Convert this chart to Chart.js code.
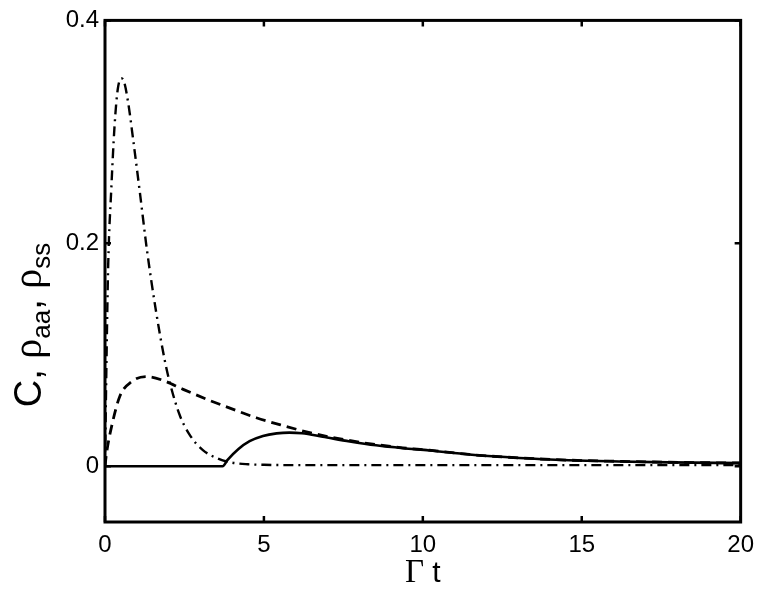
<!DOCTYPE html>
<html><head><meta charset="utf-8">
<script src="https://cdn.jsdelivr.net/npm/chart.js@4"></script>
<style>html,body{margin:0;padding:0;background:#fff}</style>
</head><body>
<canvas id="c" width="763" height="594" style="display:block;width:763px;height:594px"></canvas>
<script>
// ---- data ----
const xTickValues = [0, 5, 10, 15, 20];
const yTickValues = [0, 0.2, 0.4];

const solidT = [0, 1, 2, 3, 3.7, 3.85, 4.2, 4.55, 4.97, 5.4, 5.8, 6.2, 6.85, 7.7, 8.53, 9.37, 10.2, 11.46, 13.03, 14.6, 16.17, 17.74, 20];
const solidY = [0, 0, 0, 0, 0, 0.0055, 0.0155, 0.0225, 0.0272, 0.0295, 0.0302, 0.0296, 0.0265, 0.0223, 0.0188, 0.0162, 0.0142, 0.0105, 0.0074, 0.0054, 0.0043, 0.0035, 0.0028];

const dashedT = [0, 0.05, 0.21, 0.47, 0.84, 1.31, 1.83, 2.46, 3.3, 4.13, 4.76, 5.6, 6.44, 7.27, 8.1, 8.53, 9.37, 10.2, 11.46, 13.03, 14.6, 16.17, 17.74, 20];
const dashedY = [0, 0.012, 0.036, 0.063, 0.076, 0.0805, 0.077, 0.069, 0.059, 0.050, 0.0435, 0.0365, 0.0302, 0.0252, 0.0212, 0.0194, 0.0165, 0.0144, 0.0106, 0.0075, 0.0055, 0.0044, 0.0036, 0.0029];

const dashDotT = [0, 0.05, 0.1, 0.2, 0.3, 0.4, 0.52, 0.6, 0.73, 0.9, 1.1, 1.32, 1.6, 1.88, 2.04, 2.35, 2.67, 3.08, 3.55, 3.9, 4.5, 5, 6, 8, 10, 15, 20];
const dashDotY = [0, 0.1, 0.18, 0.25, 0.305, 0.338, 0.348, 0.345, 0.326, 0.29, 0.245, 0.194, 0.14, 0.095, 0.075, 0.046, 0.028, 0.0145, 0.007, 0.0038, 0.0018, 0.0013, 0.001, 0.001, 0.001, 0.001, 0.001];

const seriesNames = ['C', 'ρ_aa', 'ρ_ss'];

function pts(ts, ys) { return ts.map((t, i) => ({ x: t, y: ys[i] })); }

const frame = {
  id: 'frame',
  afterDatasetsDraw(chart) {
    const ctx = chart.ctx;
    const a = chart.chartArea;
    const xs = chart.scales.x, ys = chart.scales.y;
    ctx.save();
    ctx.strokeStyle = '#000';
    ctx.lineWidth = 3;
    ctx.strokeRect(a.left, a.top, a.right - a.left, a.bottom - a.top);
    ctx.lineWidth = 2.5;
    ctx.beginPath();
    const tl = 6;
    xTickValues.forEach(v => {
      const p = xs.getPixelForValue(v);
      ctx.moveTo(p, a.bottom); ctx.lineTo(p, a.bottom - tl);
      ctx.moveTo(p, a.top); ctx.lineTo(p, a.top + tl);
    });
    yTickValues.forEach(v => {
      const p = ys.getPixelForValue(v);
      ctx.moveTo(a.left, p); ctx.lineTo(a.left + tl, p);
      ctx.moveTo(a.right, p); ctx.lineTo(a.right - tl, p);
    });
    ctx.stroke();
    ctx.restore();
  },
  afterDraw(chart) {
    const ctx = chart.ctx;
    const a = chart.chartArea;
    ctx.save();
    ctx.fillStyle = '#000';
    ctx.textBaseline = 'alphabetic';
    // x title: "Γ t"
    const gF = '33px "Liberation Serif"', tF = '30px "Liberation Sans"';
    ctx.font = gF; const wG = ctx.measureText('Γ').width;
    ctx.font = tF; const wT = ctx.measureText(' t').width;
    let x0 = (a.left + a.right) / 2 - (wG + wT) / 2;
    ctx.font = gF; ctx.fillText('Γ', x0, 582);
    ctx.font = tF; ctx.fillText(' t', x0 + wG, 582);
    // y title: C, ρaa, ρss (rotated)
    const parts = [
      ['C, ', '38px "Liberation Sans"', 0],
      ['ρ', '40px "Liberation Serif"', 0],
      ['aa', '26px "Liberation Sans"', 9],
      [', ', '38px "Liberation Sans"', 0],
      ['ρ', '40px "Liberation Serif"', 0],
      ['ss', '26px "Liberation Sans"', 9]
    ];
    let total = 0;
    parts.forEach(p => { ctx.font = p[1]; p.push(ctx.measureText(p[0]).width); total += p[3]; });
    ctx.translate(41, 325);
    ctx.rotate(-Math.PI / 2);
    let cx = -total / 2;
    parts.forEach(p => { ctx.font = p[1]; ctx.fillText(p[0], cx, p[2]); cx += p[3]; });
    ctx.restore();
  }
};

new Chart(document.getElementById('c'), {
  type: 'line',
  data: {
    datasets: [
      { label: seriesNames[0], data: pts(solidT, solidY), borderColor: '#000', borderWidth: 2.6, pointRadius: 0, fill: false, cubicInterpolationMode: 'monotone' },
      { label: seriesNames[1], data: pts(dashedT, dashedY), borderColor: '#000', borderWidth: 2.8, borderDash: [10, 6], pointRadius: 0, fill: false, cubicInterpolationMode: 'monotone' },
      { label: seriesNames[2], data: pts(dashDotT, dashDotY), borderColor: '#000', borderWidth: 2.4, borderDash: [10, 5, 2, 5], pointRadius: 0, fill: false, cubicInterpolationMode: 'monotone' }
    ]
  },
  options: {
    responsive: false,
    animation: false,
    devicePixelRatio: 1,
    layout: { padding: { left: 0, top: 20, right: 20, bottom: 0 } },
    plugins: { legend: { display: false }, tooltip: { enabled: false } },
    scales: {
      x: {
        type: 'linear', min: 0, max: 20,
        afterFit(s) { s.height = 72; },
        afterBuildTicks(s) { s.ticks = xTickValues.map(v => ({ value: v })); },
        grid: { display: false, drawTicks: false },
        border: { display: false },
        ticks: { color: '#000', font: { family: 'Liberation Sans', size: 24 }, padding: 9, maxRotation: 0, callback: v => String(v) }
      },
      y: {
        type: 'linear', min: -0.05, max: 0.4,
        afterFit(s) { s.width = 105; },
        afterBuildTicks(s) { s.ticks = yTickValues.map(v => ({ value: v })); },
        grid: { display: false, drawTicks: false },
        border: { display: false },
        ticks: { color: '#000', font: { family: 'Liberation Sans', size: 24 }, padding: 6, callback: v => String(v) }
      }
    }
  },
  plugins: [frame]
});
</script>
</body></html>
